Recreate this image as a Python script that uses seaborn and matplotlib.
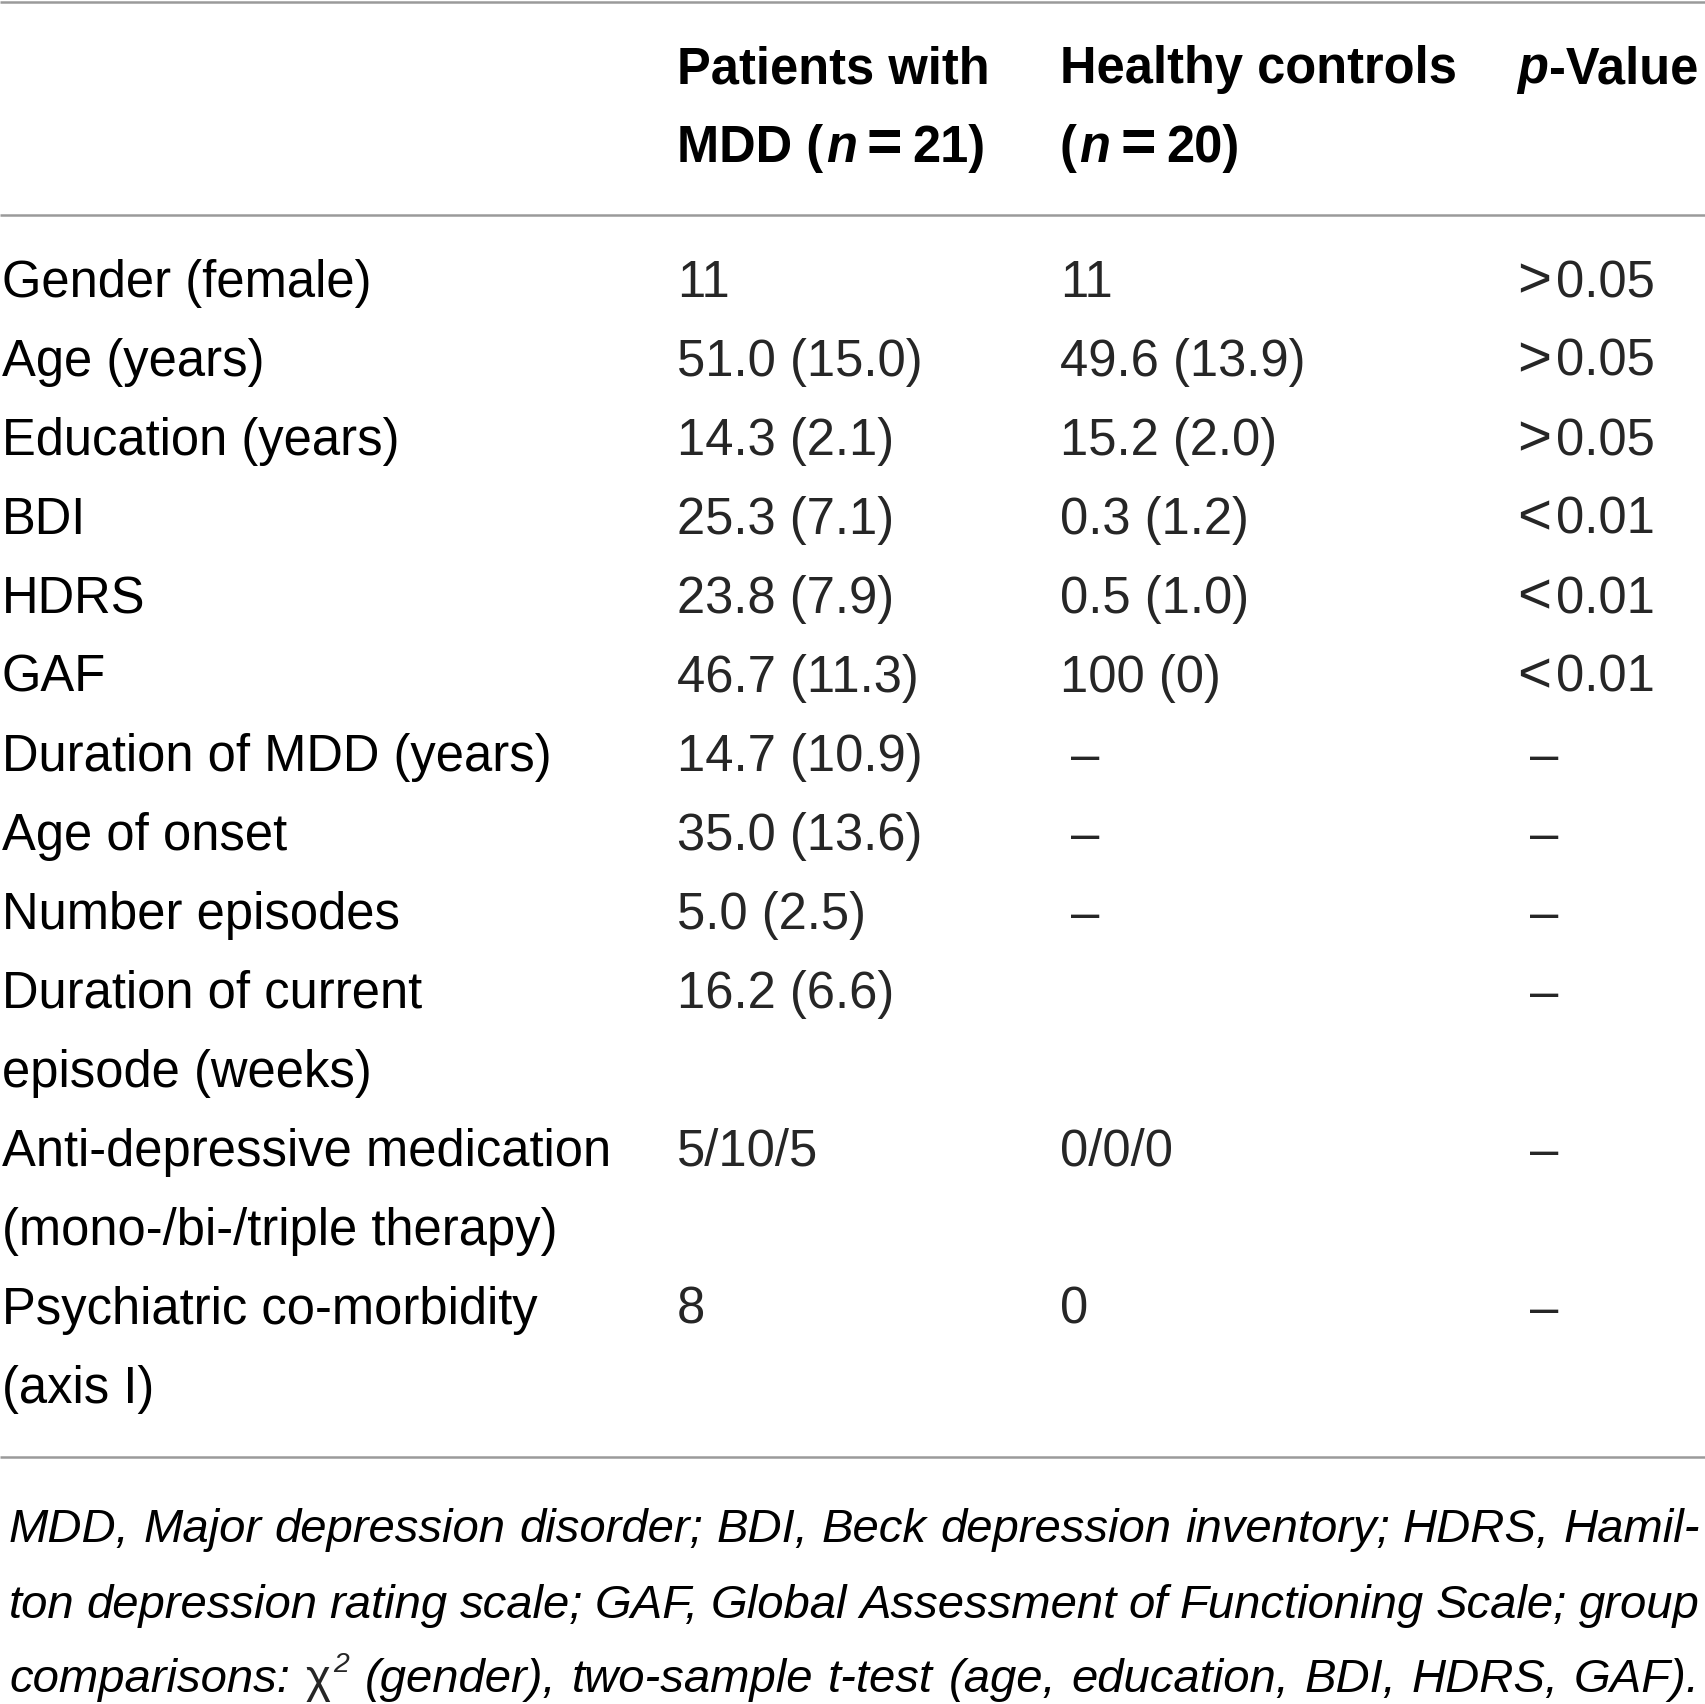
import matplotlib
matplotlib.use("Agg")
import matplotlib.pyplot as plt
import seaborn as sns

sns.set_theme(style="white")
plt.rcParams['font.family'] = ['Liberation Sans', 'DejaVu Sans']

# Table content
row_labels = ["Gender (female)", "Age (years)", "Education (years)", "BDI", "HDRS", "GAF",
              "Duration of MDD (years)", "Age of onset", "Number episodes",
              "Duration of current\nepisode (weeks)",
              "Anti-depressive medication\n(mono-/bi-/triple therapy)",
              "Psychiatric co-morbidity\n(axis I)"]
mdd_values = ["11", "51.0 (15.0)", "14.3 (2.1)", "25.3 (7.1)", "23.8 (7.9)", "46.7 (11.3)",
              "14.7 (10.9)", "35.0 (13.6)", "5.0 (2.5)", "16.2 (6.6)", "5/10/5", "8"]
hc_values = ["11", "49.6 (13.9)", "15.2 (2.0)", "0.3 (1.2)", "0.5 (1.0)", "100 (0)",
             "–", "–", "–", "", "0/0/0", "0"]
p_values = [">0.05", ">0.05", ">0.05", "<0.01", "<0.01", "<0.01",
            "–", "–", "–", "–", "–", "–"]
footnote_lines = [
    "MDD, Major depression disorder; BDI, Beck depression inventory; HDRS, Hamil-",
    "ton depression rating scale; GAF, Global Assessment of Functioning Scale; group",
    "comparisons: χ² (gender), two-sample t-test (age, education, BDI, HDRS, GAF).",
]

W, H = 1705, 1704
fig = plt.figure(figsize=(W / 100, H / 100), dpi=100)
ax = fig.add_axes([0, 0, 1, 1])
ax.set_xlim(0, W)
ax.set_ylim(H, 0)
ax.axis('off')
renderer = fig.canvas.get_renderer()
fam = ['Liberation Sans', 'DejaVu Sans']


def measure(s, **kw):
    t = ax.text(0, 0, s, family=fam, **kw)
    w = t.get_window_extent(renderer).width
    t.remove()
    return w


def draw_runs(x, y, runs, size):
    # runs: (text, weight, style, gap before in em, size factor)
    em = size * 100 / 72
    for s, weight, style, gap, sf in runs:
        x += gap * em
        t = ax.text(x, y, s, fontsize=size * sf, fontweight=weight, fontstyle=style,
                    family=fam, va='baseline', ha='left', color='black')
        x += t.get_window_extent(renderer).width


# rules
rule_color = '#9a9a9a'
for yy in [2, 215, 1457]:
    ax.plot([0, W], [yy, yy], color=rule_color, lw=1.8, solid_capstyle='butt')

# header
col_x = [2, 677, 1060, 1517]
hsize = 36 * 397 / measure("Healthy controls", fontsize=36, fontweight='bold')
hb1, hb2 = 83, 162
draw_runs(col_x[1], hb1, [("Patients with", 'bold', 'normal', 0, 1)], hsize)
draw_runs(col_x[2], hb1, [("Healthy controls", 'bold', 'normal', 0, 1)], hsize)
draw_runs(col_x[3], hb1, [("p", 'bold', 'italic', 0, 1), ("-Value", 'bold', 'normal', 0.02, 1)],
          hsize)
draw_runs(col_x[1], hb2, [("MDD (", 'bold', 'normal', 0, 1), ("n", 'bold', 'italic', 0.05, 1),
                          ("=", 'bold', 'normal', 0.2, 1.2), ("21)", 'bold', 'normal', 0.2, 1)],
          hsize)
draw_runs(col_x[2], hb2, [("(", 'bold', 'normal', 0, 1), ("n", 'bold', 'italic', 0.05, 1),
                          ("=", 'bold', 'normal', 0.2, 1.2), ("20)", 'bold', 'normal', 0.2, 1)],
          hsize)

# body
dsize = 36.5
first_base, pitch = 297, 79
line_idx = 0
for label, m, hc, p in zip(row_labels, mdd_values, hc_values, p_values):
    base = first_base + pitch * line_idx
    for k, part in enumerate(label.split("\n")):
        ax.text(col_x[0], base + pitch * k, part, fontsize=dsize, family=fam,
                va='baseline', ha='left', color='black')
    ax.text(col_x[1], base, m, fontsize=dsize, family=fam, va='baseline', ha='left')
    ax.text(col_x[2] + (11 if hc == "–" else 0), base, hc, fontsize=dsize, family=fam,
            va='baseline', ha='left')
    if p == "–":
        ax.text(1530, base, p, fontsize=dsize, family=fam, va='baseline', ha='left')
    else:
        # comparison sign set apart from the number, as in the typeset table
        ax.text(col_x[3], base, p[0], fontsize=dsize * 1.15, family=fam,
                va='baseline', ha='left')
        ax.text(1556, base, p[1:], fontsize=dsize, family=fam, va='baseline', ha='left')
    line_idx += len(label.split("\n"))


# footnote, justified
def word_width(w, fs):
    if w == "χ²":
        return (measure("χ", fontsize=fs) + 0.08 * fs * 100 / 72
                + measure("2", fontsize=fs * 0.6, fontstyle='italic'))
    return measure(w, fontsize=fs, fontstyle='italic')


x_left, x_right = 9, 1700
target = x_right - x_left
fs0 = 30
nat = []
for line in footnote_lines:
    words = line.split(" ")
    nat.append(sum(word_width(w, fs0) for w in words)
               + (len(words) - 1) * 0.2 * fs0 * 100 / 72)
fsize = min(34, fs0 * target / max(nat) * 0.995)
for line, yb in zip(footnote_lines, [1542, 1618, 1692]):
    words = line.split(" ")
    widths = [word_width(w, fsize) for w in words]
    gap = (target - sum(widths)) / (len(words) - 1)
    x = x_left
    for w, wd in zip(words, widths):
        if w == "χ²":
            t = ax.text(x, yb, "χ", fontsize=fsize, family=fam, va='baseline', ha='left')
            x2 = x + t.get_window_extent(renderer).width + 0.08 * fsize * 100 / 72
            ax.text(x2, yb - 0.42 * fsize * 100 / 72, "2", fontsize=fsize * 0.6,
                    fontstyle='italic', family=fam, va='baseline', ha='left')
        else:
            ax.text(x, yb, w, fontsize=fsize, fontstyle='italic', family=fam,
                    va='baseline', ha='left', color='black')
        x += wd + gap

fig.savefig("out.png", dpi=100, facecolor='white')
